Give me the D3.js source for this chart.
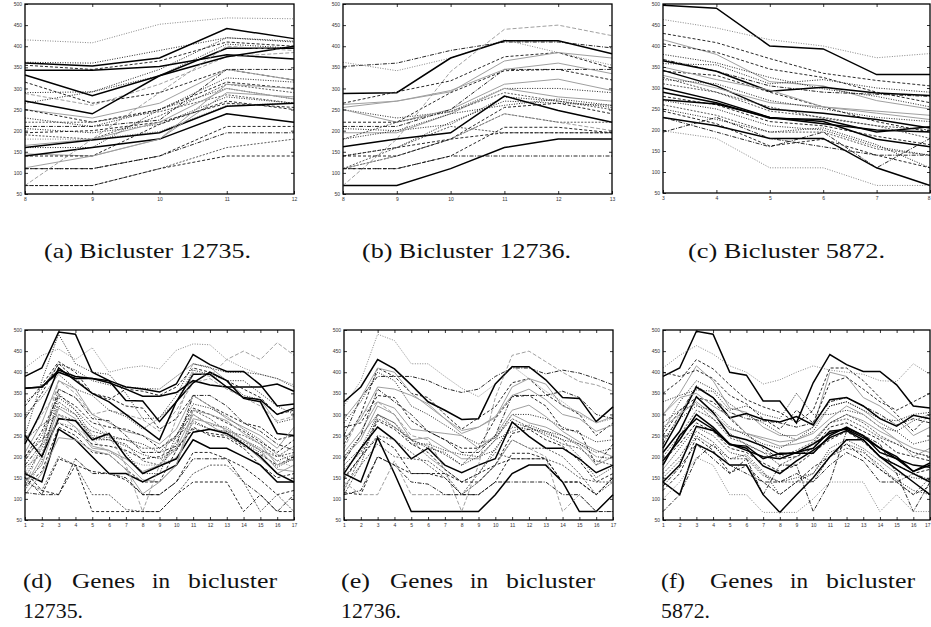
<!DOCTYPE html>
<html>
<head>
<meta charset="utf-8">
<script src="https://cdn.jsdelivr.net/npm/d3@7"></script>
<style>
  body { margin: 0; background: #fff; }
  .tick text { font-family: "Liberation Sans", sans-serif; font-size: 5px; fill: #333; }
  .cap { font-family: "Liberation Serif", serif; font-size: 21px; fill: #111; }
</style>
</head>
<body>
<svg id="fig" width="931" height="627"></svg>
<script>
// condiciones (eje x) y marcas del eje y
const condiciones = [1, 2, 3, 4, 5, 6, 7, 8, 9, 10, 11, 12, 13, 14, 15, 16, 17];
const cols12735 = [8, 9, 10, 11, 12];
const cols12736 = [8, 9, 10, 11, 12, 13];
const cols5872 = [3, 4, 5, 6, 7, 8];
const yTicks = [50, 100, 150, 200, 250, 300, 350, 400, 450, 500];

// expresion de cada gen en las 17 condiciones
const genes12735 = [
  [410, 440, 455, 430, 458, 400, 410, 415, 408, 452, 467, 465, 430, 410, 395, 385, 370],
  [330, 360, 420, 405, 380, 370, 365, 362, 360, 390, 420, 410, 400, 400, 395, 385, 365],
  [362, 365, 405, 390, 385, 380, 365, 360, 353, 372, 442, 418, 402, 402, 370, 320, 325],
  [362, 365, 400, 385, 385, 375, 360, 343, 343, 352, 380, 370, 365, 365, 365, 372, 355],
  [320, 370, 425, 400, 350, 335, 360, 355, 345, 365, 410, 400, 380, 360, 340, 300, 310],
  [390, 410, 495, 490, 400, 380, 333, 332, 283, 330, 395, 395, 365, 340, 335, 300, 315],
  [290, 350, 420, 385, 350, 340, 320, 315, 265, 290, 345, 320, 300, 280, 270, 240, 250],
  [250, 380, 490, 420, 400, 395, 350, 290, 292, 345, 420, 412, 380, 345, 335, 280, 290],
  [240, 300, 360, 340, 300, 310, 300, 288, 260, 310, 375, 385, 360, 340, 320, 285, 295],
  [230, 310, 410, 380, 350, 330, 300, 270, 240, 330, 375, 400, 380, 338, 330, 255, 250],
  [300, 340, 395, 360, 345, 310, 295, 265, 292, 330, 405, 395, 380, 380, 350, 320, 300],
  [210, 280, 380, 360, 300, 280, 260, 250, 230, 265, 345, 320, 290, 270, 250, 220, 270],
  [200, 260, 345, 320, 280, 270, 265, 250, 220, 250, 315, 300, 280, 260, 235, 210, 240],
  [190, 250, 340, 310, 250, 245, 240, 230, 210, 250, 300, 275, 270, 240, 220, 190, 205],
  [240, 275, 300, 285, 260, 250, 240, 220, 220, 245, 285, 265, 255, 235, 215, 200, 210],
  [180, 230, 360, 340, 290, 285, 250, 210, 210, 225, 345, 345, 320, 280, 260, 230, 215],
  [150, 220, 320, 300, 240, 240, 225, 205, 195, 215, 280, 265, 260, 230, 210, 175, 195],
  [200, 240, 280, 260, 230, 225, 215, 195, 200, 220, 265, 255, 250, 225, 205, 180, 200],
  [175, 205, 330, 300, 245, 240, 230, 190, 180, 235, 310, 290, 260, 250, 230, 200, 225],
  [160, 230, 280, 270, 240, 210, 195, 180, 180, 198, 260, 265, 260, 240, 215, 190, 175],
  [130, 200, 315, 290, 225, 215, 195, 165, 180, 220, 300, 275, 250, 230, 195, 160, 180],
  [250, 200, 290, 285, 240, 255, 200, 160, 178, 195, 258, 265, 255, 230, 200, 160, 140],
  [120, 190, 350, 310, 270, 250, 210, 160, 160, 250, 325, 315, 295, 265, 240, 205, 190],
  [140, 180, 300, 270, 220, 215, 185, 145, 140, 180, 290, 280, 265, 240, 215, 170, 165],
  [160, 140, 265, 240, 200, 160, 160, 140, 160, 180, 240, 220, 220, 200, 180, 140, 140],
  [130, 165, 270, 250, 210, 205, 170, 140, 140, 215, 270, 250, 245, 220, 180, 150, 160],
  [110, 160, 245, 240, 215, 205, 170, 112, 140, 180, 310, 300, 285, 255, 230, 180, 195],
  [150, 110, 195, 180, 165, 160, 145, 110, 110, 140, 210, 210, 195, 175, 145, 110, 120],
  [115, 110, 110, 195, 160, 160, 150, 110, 110, 140, 195, 195, 195, 140, 110, 70, 110],
  [140, 120, 200, 180, 110, 110, 75, 70, 70, 110, 160, 180, 180, 140, 70, 110, 70],
  [165, 120, 110, 180, 70, 70, 70, 70, 70, 110, 140, 140, 140, 70, 110, 70, 70],
  [130, 230, 380, 350, 300, 250, 180, 70, 180, 290, 400, 390, 430, 450, 430, 470, 440]
];
const genes12736 = [
  [250, 340, 390, 390, 390, 380, 362, 352, 360, 390, 410, 410, 396, 405, 398, 385, 370],
  [320, 380, 490, 475, 420, 420, 390, 362, 342, 372, 415, 385, 355, 330, 300, 280, 290],
  [330, 365, 430, 408, 370, 330, 310, 288, 290, 372, 413, 413, 382, 340, 338, 283, 318],
  [230, 300, 410, 390, 350, 340, 300, 265, 292, 318, 375, 385, 348, 322, 300, 250, 280],
  [240, 290, 365, 360, 345, 325, 290, 255, 270, 292, 365, 385, 372, 320, 305, 280, 295],
  [280, 330, 400, 380, 320, 300, 275, 250, 230, 245, 300, 300, 290, 270, 255, 235, 240],
  [210, 260, 330, 315, 265, 260, 255, 250, 220, 250, 310, 322, 295, 260, 235, 215, 200],
  [270, 280, 345, 340, 285, 260, 240, 220, 220, 290, 342, 345, 320, 265, 260, 180, 230],
  [190, 250, 360, 330, 300, 260, 240, 210, 210, 250, 345, 345, 345, 355, 340, 300, 290],
  [180, 220, 300, 280, 230, 230, 215, 205, 200, 215, 280, 270, 255, 240, 230, 200, 195],
  [200, 240, 320, 300, 240, 245, 220, 195, 195, 240, 300, 280, 270, 250, 225, 180, 200],
  [170, 210, 290, 270, 240, 225, 205, 180, 220, 245, 290, 270, 250, 230, 220, 190, 180],
  [160, 220, 270, 240, 195, 220, 180, 162, 180, 195, 282, 248, 220, 220, 195, 162, 180],
  [150, 200, 285, 265, 230, 210, 170, 140, 160, 180, 255, 265, 240, 225, 190, 140, 160],
  [130, 180, 300, 280, 240, 200, 170, 140, 160, 220, 270, 265, 260, 240, 200, 150, 175],
  [120, 200, 250, 240, 210, 180, 150, 110, 140, 180, 240, 220, 220, 200, 160, 110, 140],
  [115, 110, 200, 180, 160, 160, 150, 110, 110, 140, 208, 208, 195, 140, 140, 110, 150],
  [110, 180, 230, 200, 195, 190, 160, 110, 160, 210, 195, 195, 195, 180, 150, 140, 140],
  [160, 140, 245, 160, 70, 70, 70, 70, 70, 110, 160, 180, 180, 140, 70, 70, 110],
  [220, 300, 330, 300, 250, 240, 170, 70, 180, 340, 440, 450, 425, 400, 378, 370, 355],
  [140, 110, 110, 190, 110, 110, 110, 110, 140, 180, 240, 220, 200, 70, 110, 70, 70],
  [145, 200, 245, 220, 160, 160, 160, 140, 140, 180, 195, 195, 195, 140, 140, 110, 150],
  [110, 120, 200, 180, 140, 135, 110, 110, 110, 140, 140, 140, 140, 110, 110, 70, 70],
  [200, 250, 300, 270, 240, 220, 210, 180, 200, 240, 260, 275, 260, 250, 230, 210, 220],
  [290, 340, 410, 400, 350, 320, 290, 262, 270, 295, 345, 360, 335, 300, 290, 260, 275]
];
const genes5872 = [
  [390, 410, 497, 490, 400, 393, 332, 332, 280, 375, 442, 418, 402, 402, 370, 320, 315],
  [410, 440, 463, 443, 415, 400, 372, 382, 400, 415, 405, 400, 395, 380, 378, 420, 395],
  [350, 380, 430, 408, 370, 335, 318, 305, 280, 310, 410, 410, 380, 340, 300, 260, 300],
  [300, 350, 415, 380, 315, 305, 270, 250, 250, 270, 400, 390, 340, 320, 290, 250, 270],
  [400, 390, 405, 385, 345, 325, 290, 265, 310, 280, 375, 388, 360, 330, 310, 330, 350],
  [260, 330, 380, 360, 325, 298, 280, 255, 240, 270, 320, 330, 310, 290, 285, 300, 305],
  [230, 300, 368, 340, 305, 290, 285, 280, 270, 280, 330, 340, 320, 300, 275, 290, 280],
  [220, 290, 365, 340, 292, 302, 288, 282, 295, 275, 335, 340, 320, 290, 272, 298, 290],
  [330, 345, 358, 355, 310, 320, 300, 290, 350, 300, 300, 310, 300, 270, 260, 285, 300],
  [210, 260, 342, 305, 250, 240, 225, 205, 210, 230, 255, 268, 250, 220, 200, 165, 185],
  [250, 310, 340, 330, 290, 255, 220, 195, 200, 220, 270, 280, 260, 240, 210, 200, 190],
  [270, 300, 330, 300, 265, 255, 240, 225, 230, 240, 280, 300, 285, 260, 240, 220, 210],
  [240, 290, 320, 310, 270, 250, 230, 220, 240, 260, 320, 330, 310, 280, 260, 230, 240],
  [200, 250, 310, 290, 245, 230, 210, 200, 215, 235, 280, 290, 270, 245, 230, 210, 200],
  [190, 240, 300, 270, 230, 215, 200, 195, 210, 220, 260, 265, 245, 220, 195, 180, 175],
  [180, 250, 290, 265, 228, 225, 195, 208, 208, 208, 250, 270, 250, 210, 195, 165, 180],
  [190, 230, 280, 260, 220, 210, 185, 165, 180, 210, 240, 260, 235, 200, 180, 160, 170],
  [140, 180, 272, 262, 230, 220, 178, 160, 190, 215, 245, 262, 240, 200, 180, 160, 140],
  [170, 220, 270, 250, 210, 200, 160, 140, 150, 160, 220, 240, 220, 190, 160, 150, 145],
  [160, 200, 260, 235, 195, 195, 155, 140, 140, 140, 200, 220, 210, 180, 140, 110, 150],
  [150, 190, 250, 225, 195, 205, 165, 110, 140, 160, 210, 230, 215, 170, 145, 120, 110],
  [140, 110, 230, 210, 180, 180, 110, 68, 110, 150, 200, 240, 240, 200, 170, 140, 110],
  [130, 175, 230, 195, 160, 195, 110, 180, 180, 70, 140, 260, 250, 230, 160, 70, 140],
  [100, 140, 198, 180, 110, 110, 68, 68, 68, 100, 140, 140, 140, 70, 110, 70, 70],
  [70, 110, 195, 230, 180, 160, 140, 140, 160, 140, 180, 210, 190, 140, 140, 160, 145],
  [120, 160, 245, 215, 162, 178, 140, 110, 140, 175, 200, 230, 200, 170, 140, 110, 130],
  [300, 340, 350, 320, 295, 255, 245, 235, 240, 255, 290, 320, 300, 270, 240, 200, 220],
  [280, 310, 325, 290, 255, 228, 210, 180, 200, 230, 280, 300, 280, 250, 230, 210, 200]
];

// tipo de linea (estilo gnuplot) de cada gen
const tipo12735 = [5, 2, 0, 0, 1, 0, 1, 2, 7, 0, 2, 3, 1, 2, 6, 4, 2, 1, 6, 5, 3, 0, 2, 3, 0, 1, 3, 1, 4, 6, 1, 7];
const tipo12736 = [4, 5, 0, 1, 3, 2, 3, 1, 4, 2, 3, 6, 0, 1, 2, 6, 1, 6, 0, 7, 7, 1, 4, 2, 3];
const tipo5872 = [0, 5, 1, 3, 1, 2, 4, 0, 2, 0, 1, 3, 2, 6, 0, 0, 1, 0, 2, 6, 2, 0, 4, 5, 4, 1, 3, 6];

const estilos = [
  { color: "#000", ancho: 1.5, dash: null },
  { color: "#111", ancho: 0.9, dash: "3,2" },
  { color: "#111", ancho: 0.9, dash: "1,1.5" },
  { color: "#a0a0a0", ancho: 1, dash: null },
  { color: "#111", ancho: 0.9, dash: "4,1.5,1,1.5" },
  { color: "#888", ancho: 1, dash: "1,1.5" },
  { color: "#333", ancho: 0.8, dash: "2,1.5" },
  { color: "#888", ancho: 0.8, dash: "4,2" }
];

const svg = d3.select("#fig");

function dibujaPanel(px, py, ancho, alto, genes, tipos, cols, cortado) {
  let g = svg.append("g").attr("transform", "translate(" + px + "," + py + ")");

  let x = d3.scaleLinear().domain([cols[0], cols[cols.length - 1]]).range([0, ancho]);
  let y = d3.scaleLinear().domain([50, 500]).range([alto, 0]);

  // lineas
  let linea = d3
    .line()
    .x((d) => x(d.c))
    .y((d) => y(d.v));

  genes.forEach((gen, i) => {
    let puntos = cols.map((c) => ({ c: c, v: gen[condiciones.indexOf(c)] }));
    let e = estilos[tipos[i]];
    g.append("path")
      .datum(puntos)
      .attr("d", linea)
      .attr("fill", "none")
      .attr("stroke", e.color)
      .attr("stroke-width", e.ancho)
      .attr("stroke-dasharray", e.dash);
  });

  // ejes con marcas hacia dentro (y espejo arriba/derecha)
  g.append("g").call(d3.axisLeft(y).tickValues(yTicks).tickSize(-3).tickPadding(3));
  let ejeX = g.append("g")
    .attr("transform", "translate(0," + alto + ")")
    .call(d3.axisBottom(x).tickValues(cols).tickFormat(d3.format("d")).tickSize(-3).tickPadding(3));
  g.append("g")
    .attr("transform", "translate(" + ancho + ",0)")
    .call(d3.axisRight(y).tickValues(yTicks.slice(1, -1)).tickSize(-3).tickFormat(""));
  g.append("g")
    .call(d3.axisTop(x).tickValues(cols.slice(1, -1)).tickSize(-3).tickFormat(""));

  // la figura de la derecha llega al borde: la ultima etiqueta se alinea a la derecha
  if (cortado) {
    ejeX.selectAll(".tick text")
      .filter((d) => d === cols[cols.length - 1])
      .attr("text-anchor", "end");
  }

  g.selectAll(".domain").remove();
  g.selectAll(".tick line").attr("stroke", "#000").attr("stroke-width", 0.8);

  g.append("rect")
    .attr("width", ancho)
    .attr("height", alto)
    .attr("fill", "none")
    .attr("stroke", "#000")
    .attr("stroke-width", 1.3);
}

dibujaPanel(25, 4, 269, 190, genes12735, tipo12735, cols12735, false);
dibujaPanel(343, 4, 269, 190, genes12736, tipo12736, cols12736, false);
dibujaPanel(663, 4, 267, 189, genes5872, tipo5872, cols5872, true);
dibujaPanel(25, 330, 269, 190, genes12735, tipo12735, condiciones, false);
dibujaPanel(344, 330, 269, 190, genes12736, tipo12736, condiciones, false);
dibujaPanel(663, 330, 267, 190, genes5872, tipo5872, condiciones, true);

// leyendas de las subfiguras
const titulosArriba = [
  { t: "(a) Bicluster 12735.", x: 44, w: 207 },
  { t: "(b) Bicluster 12736.", x: 362, w: 209 },
  { t: "(c) Bicluster 5872.", x: 688, w: 197 }
];
titulosArriba.forEach((d) => {
  svg.append("text")
    .attr("class", "cap")
    .attr("x", d.x)
    .attr("y", 258)
    .attr("textLength", d.w)
    .attr("lengthAdjust", "spacingAndGlyphs")
    .text(d.t);
});

const palabras = ["Genes", "in", "bicluster"];
const posPalabras = [{ x: 72, w: 63 }, { x: 152, w: 18 }, { x: 188, w: 89 }];
const titulosAbajo = [
  { letra: "(d)", num: "12735.", dx: 0, wn: 60 },
  { letra: "(e)", num: "12736.", dx: 318, wn: 60 },
  { letra: "(f)", num: "5872.", dx: 638, wn: 49 }
];
titulosAbajo.forEach((d) => {
  svg.append("text")
    .attr("class", "cap")
    .attr("x", 23 + d.dx)
    .attr("y", 588)
    .attr("textLength", d.letra === "(f)" ? 24 : 29)
    .attr("lengthAdjust", "spacingAndGlyphs")
    .text(d.letra);
  palabras.forEach((p, i) => {
    svg.append("text")
      .attr("class", "cap")
      .attr("x", posPalabras[i].x + d.dx)
      .attr("y", 588)
      .attr("textLength", posPalabras[i].w)
      .attr("lengthAdjust", "spacingAndGlyphs")
      .text(p);
  });
  svg.append("text")
    .attr("class", "cap")
    .attr("x", 23 + d.dx)
    .attr("y", 618)
    .attr("textLength", d.wn)
    .attr("lengthAdjust", "spacingAndGlyphs")
    .text(d.num);
});
</script>
</body>
</html>
